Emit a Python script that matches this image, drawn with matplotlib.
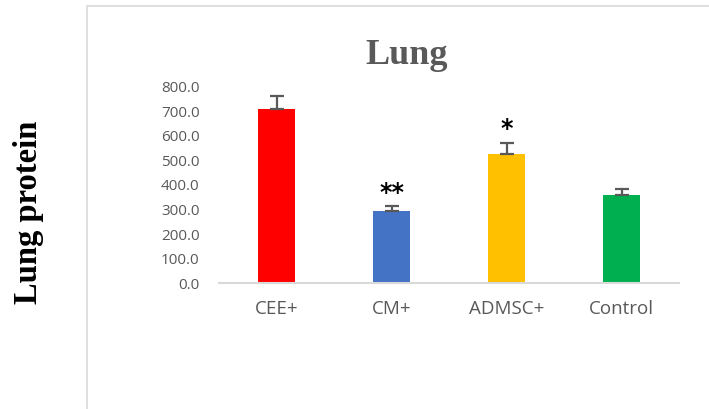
import matplotlib.pyplot as plt
from matplotlib.patches import Rectangle

# Values
groups = ["CEE+", "CM+", "ADMSC+", "Control"]
protein = [708, 294, 526, 359]
protein_err = [54, 20, 46, 24]
stars = ["", "**", "*", ""]
bar_colors = ["#FF0000", "#4472C4", "#FFC000", "#00B050"]
y_ticks = [0, 100, 200, 300, 400, 500, 600, 700, 800]

fig = plt.figure(figsize=(7.09, 4.09), dpi=100)
ax = fig.add_axes([0.309, 0.3073, 0.649, 0.481])

# light grey chart frame, open on the right and bottom
fig.patches.append(Rectangle((0.1227, -0.05), 1.0, 1.0353, transform=fig.transFigure,
                             fill=False, edgecolor="#d9d9d9", linewidth=1.2))

x = range(len(groups))
ax.bar(x, protein, width=0.32, color=bar_colors, zorder=2)
ax.errorbar(x, protein, yerr=[[0] * len(protein), protein_err], fmt="none",
            ecolor="#595959", elinewidth=1.6, capsize=5, capthick=1.6, zorder=3)

for i, s in enumerate(stars):
    if s:
        ax.annotate(s, (i, protein[i] + protein_err[i]), xytext=(0, 1),
                    textcoords="offset points", ha="center", va="bottom",
                    fontsize=17, fontweight="bold", color="black")

ax.set_xlim(-0.5, len(groups) - 0.5)
ax.set_ylim(0, 800)
ax.set_yticks(y_ticks)
ax.set_yticklabels([f"{v:.1f}" for v in y_ticks], fontsize=11, color="#595959",
                   family="Open Sans")
ax.set_xticks(list(x))
ax.set_xticklabels(groups, fontsize=13.5, color="#595959", family="Open Sans")
ax.tick_params(axis="both", length=0)
ax.tick_params(axis="y", pad=14)
ax.tick_params(axis="x", pad=12)

for side in ["top", "right", "left"]:
    ax.spines[side].set_visible(False)
ax.spines["bottom"].set_color("#d9d9d9")
ax.spines["bottom"].set_linewidth(1.5)

fig.text(0.573, 0.8435, "Lung", ha="center", va="baseline", fontsize=26,
         fontweight="bold", color="#595959", family="Liberation Serif")
fig.text(0.04, 0.4817, "Lung protein", ha="center", va="center", rotation=90,
         fontsize=23.5, fontweight="bold", color="black", family="Liberation Serif")

fig.savefig("out.png", dpi=100)
